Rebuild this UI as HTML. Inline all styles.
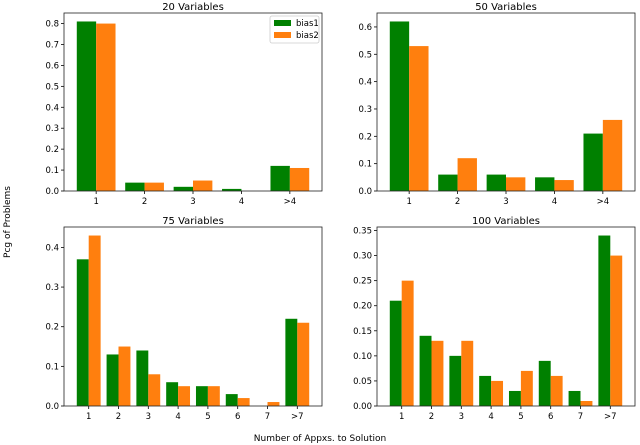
<!DOCTYPE html>
<html><head><meta charset="utf-8">
<style>
body{margin:0;background:#fff;}
svg{display:block;font-family:"DejaVu Sans","Liberation Sans",sans-serif;}
</style></head>
<body>
<svg id="chart" width="640" height="445" viewBox="0 0 640 445" xmlns="http://www.w3.org/2000/svg">
<text x="10" y="222" font-size="9" text-anchor="middle" transform="rotate(-90 10 222)">Pcg of Problems</text>
<text x="320" y="441" font-size="9" text-anchor="middle">Number of Appxs. to Solution</text>
</svg>
<script>
const cats20 = ["1","2","3","4",">4"];
const b1_20 = [0.81,0.04,0.02,0.01,0.12];
const b2_20 = [0.80,0.04,0.05,0.00,0.11];
const ticks20 = [0,0.1,0.2,0.3,0.4,0.5,0.6,0.7,0.8];
const cats50 = ["1","2","3","4",">4"];
const b1_50 = [0.62,0.06,0.06,0.05,0.21];
const b2_50 = [0.53,0.12,0.05,0.04,0.26];
const ticks50 = [0,0.1,0.2,0.3,0.4,0.5,0.6];
const cats75 = ["1","2","3","4","5","6","7",">7"];
const b1_75 = [0.37,0.13,0.14,0.06,0.05,0.03,0.00,0.22];
const b2_75 = [0.43,0.15,0.08,0.05,0.05,0.02,0.01,0.21];
const ticks75 = [0,0.1,0.2,0.3,0.4];
const cats100 = ["1","2","3","4","5","6","7",">7"];
const b1_100 = [0.21,0.14,0.10,0.06,0.03,0.09,0.03,0.34];
const b2_100 = [0.25,0.13,0.13,0.05,0.07,0.06,0.01,0.30];
const ticks100 = [0,0.05,0.10,0.15,0.20,0.25,0.30,0.35];

const NS="http://www.w3.org/2000/svg";
const svg=document.getElementById('chart');
function mk(tag,attrs,parent){const e=document.createElementNS(NS,tag);for(const k in attrs)e.setAttribute(k,attrs[k]);(parent||svg).appendChild(e);return e;}

function panel(name,title,L,T,W,H,cats,s1,s2,ticks,dec){
  const g=mk('g',{});
  
  
  const ymax=Math.max(...s1,...s2)*1.05;
  const n=cats.length;
  const xmin=-0.4-0.055*(n-0.2), xmax=n-1+0.4+0.055*(n-0.2);
  const xs=v=>L+(v-xmin)/(xmax-xmin)*W;
  const ys=v=>T+H-v/ymax*H;
  const bw=xs(0.4)-xs(0);
  cats.forEach((c,i)=>{
    const r1=mk('rect',{x:xs(i-0.4),y:ys(s1[i]),width:bw,height:ys(0)-ys(s1[i]),fill:'#008000'},g);
    
    
    const r2=mk('rect',{x:xs(i),y:ys(s2[i]),width:bw,height:ys(0)-ys(s2[i]),fill:'#ff7f0e'},g);
    
    
    mk('line',{x1:xs(i),x2:xs(i),y1:T+H,y2:T+H+3,stroke:'#000','stroke-width':0.8},g);
    const t=mk('text',{x:xs(i),y:T+H+13,'font-size':8.5,'text-anchor':'middle'},g);
    t.textContent=c;
    
    
  });
  ticks.forEach(v=>{
    mk('line',{x1:L-3,x2:L,y1:ys(v),y2:ys(v),stroke:'#000','stroke-width':0.8},g);
    const t=mk('text',{x:L-5,y:ys(v)+3,'font-size':8.5,'text-anchor':'end'},g);
    t.textContent=v.toFixed(dec);
    
    
  });
  mk('rect',{x:L,y:T,width:W,height:H,fill:'none',stroke:'#222','stroke-width':0.8},g);
  const tt=mk('text',{x:L+W/2,y:T-3,'font-size':10,'text-anchor':'middle'},g);
  tt.textContent=title;
  
  
}
panel('panel-20-variables','20 Variables',64,13,258,178,cats20,b1_20,b2_20,ticks20,1);
panel('panel-50-variables','50 Variables',377,13,258,178,cats50,b1_50,b2_50,ticks50,1);
panel('panel-75-variables','75 Variables',64,227,258,179,cats75,b1_75,b2_75,ticks75,1);
panel('panel-100-variables','100 Variables',377,227,258,179,cats100,b1_100,b2_100,ticks100,2);

const lg=mk('g',{});


mk('rect',{x:270,y:16,width:49,height:27,fill:'#fff',stroke:'#ccc','stroke-width':0.8,rx:2},lg);
mk('rect',{x:274,y:20,width:17,height:6,fill:'#008000'},lg);
mk('rect',{x:274,y:32,width:17,height:6,fill:'#ff7f0e'},lg);
const l1=mk('text',{x:296,y:26,'font-size':8.5},lg);l1.textContent='bias1';


const l2=mk('text',{x:296,y:38,'font-size':8.5},lg);l2.textContent='bias2';


</script>
</body></html>
